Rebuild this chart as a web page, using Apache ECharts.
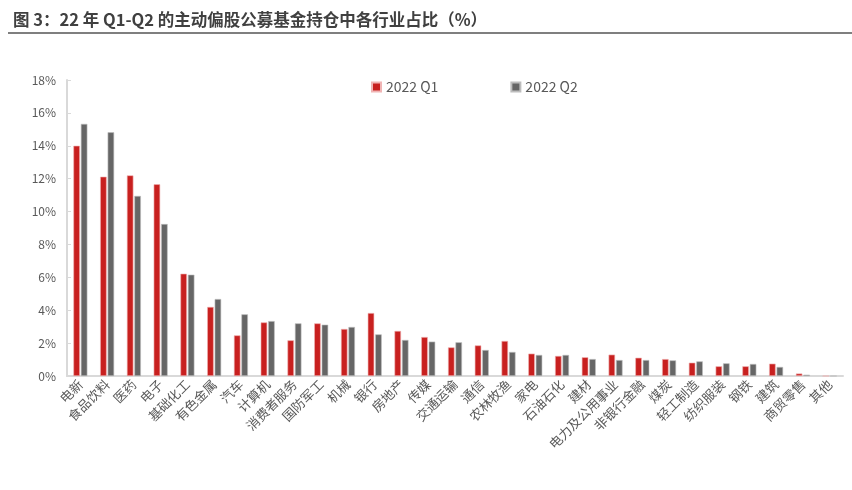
<!DOCTYPE html>
<html>
<head>
<meta charset="utf-8">
<script src="https://cdn.jsdelivr.net/npm/echarts@6/dist/echarts.min.js"></script>
<style>
html,body{margin:0;padding:0;background:#fff;}
#c{width:852px;height:490px;}
</style>
</head>
<body>
<div id="c"></div>
<script>
const titleText = '图 3：22 年 Q1-Q2 的主动偏股公募基金持仓中各行业占比（%）';
const categories = ['电新','食品饮料','医药','电子','基础化工','有色金属','汽车','计算机','消费者服务','国防军工','机械','银行','房地产','传媒','交通运输','通信','农林牧渔','家电','石油石化','建材','电力及公用事业','非银行金融','煤炭','轻工制造','纺织服装','钢铁','建筑','商贸零售','其他'];
const q1Name = '2022 Q1';
const q2Name = '2022 Q2';
const q1 = [14.0,12.12,12.2,11.66,6.22,4.2,2.47,3.26,2.17,3.2,2.86,3.83,2.74,2.37,1.74,1.86,2.13,1.36,1.22,1.14,1.3,1.11,1.03,0.81,0.59,0.59,0.75,0.15,0];
const q2 = [15.33,14.82,10.95,9.24,6.16,4.68,3.75,3.34,3.2,3.12,2.98,2.53,2.19,2.09,2.05,1.58,1.46,1.28,1.28,1.03,0.97,0.97,0.95,0.89,0.77,0.73,0.55,0.08,0];
const yTicks = {min:0, max:18, interval:2};

const font = '"Microsoft YaHei","Noto Sans CJK SC","Noto Sans",sans-serif';
const chart = echarts.init(document.getElementById('c'), null, {renderer:'canvas'});
chart.setOption({
  animation:false,
  backgroundColor:'#fff',
  title:{
    text:titleText, left:8, top:6,
    textStyle:{fontSize:16.5, fontWeight:'bold', color:'#404040', fontFamily:font}
  },
  graphic:[{
    type:'line', shape:{x1:8,y1:33,x2:852,y2:33},
    style:{stroke:'#7f7f7f', lineWidth:2}
  }],
  legend:{
    data:[q1Name,q2Name], left:366, top:75, itemWidth:9, itemHeight:9, itemGap:72,
    icon:'rect',
    textStyle:{fontSize:14, color:'#595959', fontFamily:font}
  },
  grid:{left:67, right:9, top:80, bottom:114, containLabel:false},
  xAxis:{
    type:'category', data:categories,
    axisLine:{lineStyle:{color:'#d9d9d9', width:2}},
    axisTick:{show:false},
    axisLabel:{interval:0, rotate:45, fontSize:13, color:'#595959', margin:6, fontFamily:font}
  },
  yAxis:{
    type:'value', min:yTicks.min, max:yTicks.max, interval:yTicks.interval,
    axisLine:{show:true, lineStyle:{color:'#d9d9d9', width:2}},
    axisTick:{show:true, inside:true, length:4, lineStyle:{color:'#d9d9d9'}},
    splitLine:{show:false},
    axisLabel:{formatter:'{value}%', fontSize:12, color:'#595959', margin:11, fontFamily:font}
  },
  series:[
    {name:q1Name, type:'bar', data:q1, barWidth:6.5, barGap:'15%',
     itemStyle:{color:'#C8201F', borderColor:'#F0B4B4', borderWidth:0.6}},
    {name:q2Name, type:'bar', data:q2, barWidth:6.5,
     itemStyle:{color:'#666666', borderColor:'#BDBDBD', borderWidth:0.6}}
  ]
});
</script>
</body>
</html>
